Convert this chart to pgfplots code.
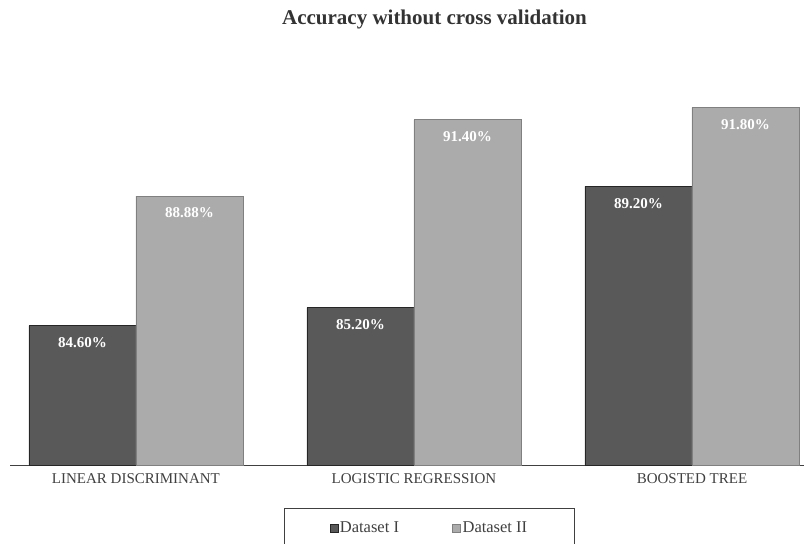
\documentclass[border=0pt]{standalone}
\usepackage{fontspec}
\setmainfont{Liberation Serif}
\usepackage{pgfplots}
\pgfplotsset{compat=1.18}
\definecolor{darkbar}{HTML}{595959}
\definecolor{lightbar}{HTML}{ABABAB}
\definecolor{txt}{HTML}{404040}
\begin{document}
\begin{tikzpicture}
\begin{axis}[
  name=ax,
  scale only axis,
  width=794pt, height=405.8pt,
  ymin=80, ymax=93.4,
  xmin=-0.453, xmax=2.403,
  ybar=0pt, bar width=107pt,
  axis x line=bottom,
  axis line style={draw=txt, line width=1pt, -},
  hide y axis,
  xtick={0,1,2},
  xticklabels={LINEAR DISCRIMINANT, LOGISTIC REGRESSION, BOOSTED TREE},
  xtick style={draw=none},
  xticklabel style={font=\fontsize{15}{18}\selectfont, text=txt, yshift=-3pt},
  title={Accuracy without cross validation},
  title style={font=\bfseries\fontsize{21}{25}\selectfont, text=black!80, at={(0.5346,1)}, anchor=center, yshift=34pt},
  point meta=explicit symbolic,
  nodes near coords={\pgfplotspointmeta\%},
  every node near coord/.append style={anchor=north, yshift=-8pt, text=white, font=\bfseries\fontsize{15}{18}\selectfont},
  legend columns=2,
  legend style={at={(0.528,0)}, anchor=north, yshift=-43pt, draw=txt, line width=0.8pt,
    inner xsep=45.5pt, inner ysep=12pt,
    font=\fontsize{16.5}{19}\selectfont, text=txt,
    /tikz/every even column/.append style={column sep=52pt},
    nodes={inner sep=1.5pt}},
  legend image code/.code={\draw[#1, line width=0.6pt] (0pt,-4pt) rectangle (8pt,4pt);},
  clip=false,
]
\addplot[fill=darkbar, draw=black!85, line width=0.8pt] coordinates {(0,84.60) [84.60] (1,85.20) [85.20] (2,89.20) [89.20]};
\addplot[fill=lightbar, draw=black!50, line width=0.8pt] coordinates {(0,88.88) [88.88] (1,91.40) [91.40] (2,91.80) [91.80]};
\legend{Dataset I, Dataset II}
\end{axis}
\pgfresetboundingbox
\path[use as bounding box] ([xshift=-10pt,yshift=-78pt]ax.south west) rectangle ([yshift=59.2pt]ax.north east);
\end{tikzpicture}
\end{document}
